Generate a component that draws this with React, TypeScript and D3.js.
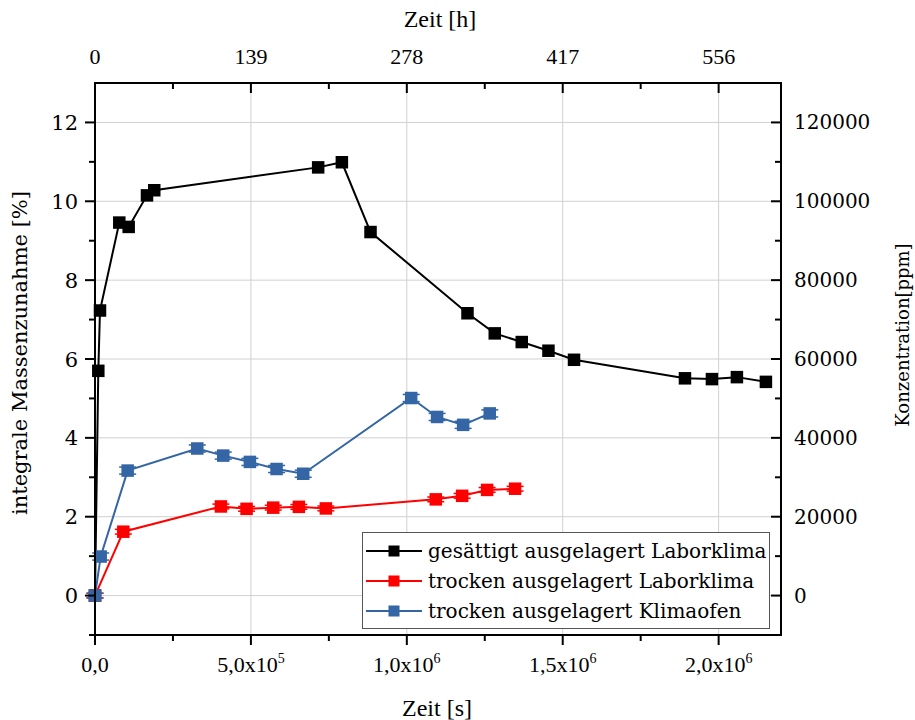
import React from "react";
import * as d3 from "d3";

// Mass uptake over storage time (seconds) for three storage conditions
const timeSatLab = [0, 10600, 16000, 77900, 108000, 166700, 190000, 715700, 791700, 883600, 1194600, 1282000, 1368600, 1454200, 1536200, 1892000, 1978500, 2058600, 2151600];
const massSatLab = [0, 5.7, 7.23, 9.46, 9.35, 10.15, 10.28, 10.86, 10.99, 9.22, 7.16, 6.65, 6.43, 6.21, 5.98, 5.51, 5.49, 5.54, 5.42];

const timeDryLab = [0, 90800, 403800, 486100, 571600, 653800, 740400, 1092900, 1177400, 1257500, 1347200];
const massDryLab = [0, 1.62, 2.26, 2.2, 2.23, 2.25, 2.21, 2.44, 2.53, 2.68, 2.71];
const errDryLab = [0.06, 0.06, 0.06, 0.06, 0.06, 0.06, 0.06, 0.06, 0.06, 0.06, 0.06];

const timeDryOven = [0, 18200, 104700, 328000, 411300, 496800, 582300, 667700, 1014000, 1097100, 1180600, 1266000];
const massDryOven = [0, 0.99, 3.17, 3.73, 3.55, 3.39, 3.21, 3.09, 5.01, 4.53, 4.33, 4.62];
const errDryOven = [0.06, 0.09, 0.09, 0.09, 0.09, 0.09, 0.09, 0.09, 0.09, 0.09, 0.09, 0.09];

const seriesNames = [
  "gesättigt ausgelagert Laborklima",
  "trocken ausgelagert Laborklima",
  "trocken ausgelagert Klimaofen",
];
const seriesColors = ["#000000", "#ff0000", "#3465a4"];

const xMajorTicks = [0, 500000, 1000000, 1500000, 2000000];
const xMinorTicks = [250000, 750000, 1250000, 1750000];
const yMajorTicks = [0, 2, 4, 6, 8, 10, 12];
const yMinorTicks = [-1, 1, 3, 5, 7, 9, 11];
const ppmMajorTicks = [0, 20000, 40000, 60000, 80000, 100000, 120000];
const ppmMinorTicks = [-10000, 10000, 30000, 50000, 70000, 90000, 110000];

const W = 915;
const H = 720;
const left = 95;
const right = 781;
const top = 83;
const bottom = 635;

const SERIF = "'DejaVu Serif', serif";
const NARROW = "'Liberation Serif', serif";

export default function App() {
  const x = d3.scaleLinear().domain([0, 2200000]).range([left, right]);
  const y = d3.scaleLinear().domain([-1, 13]).range([bottom, top]);
  const yPpm = d3.scaleLinear().domain([-10000, 130000]).range([bottom, top]);

  const line = d3
    .line<[number, number]>()
    .x((d) => x(d[0]))
    .y((d) => y(d[1]));

  const series = [
    { t: timeSatLab, m: massSatLab, e: null as number[] | null },
    { t: timeDryLab, m: massDryLab, e: errDryLab },
    { t: timeDryOven, m: massDryOven, e: errDryOven },
  ];

  const fmtDec = (v: number) => v.toFixed(1).replace(".", ",");
  const bottomLabel = (v: number) => {
    if (v === 0) return { mant: "0,0", exp: null as string | null };
    const exp = Math.floor(Math.log10(v));
    return { mant: fmtDec(v / Math.pow(10, exp)) + "x10", exp: String(exp) };
  };
  const hours = (s: number) => d3.format("d")(Math.round(s / 3600));

  const ms = 12.5;
  const cap = 8.5;

  return (
    <svg width={W} height={H} style={{ position: "absolute", left: 0, top: 0, background: "#fff" }}>
      <rect x={0} y={0} width={W} height={H} fill="#fff" />
      {/* grid */}
      <g stroke="#d0d0d0" strokeWidth={1}>
        {xMajorTicks.filter((v) => v > 0).map((v) => (
          <line key={"gx" + v} x1={x(v)} x2={x(v)} y1={top} y2={bottom} />
        ))}
        {yMajorTicks.map((v) => (
          <line key={"gy" + v} x1={left} x2={right} y1={y(v)} y2={y(v)} />
        ))}
      </g>

      {/* series */}
      {series.map((s, i) => {
        const pts = s.t.map((t, j) => [t, s.m[j]] as [number, number]);
        const c = seriesColors[i];
        return (
          <g key={"s" + i}>
            <path d={line(pts) || ""} fill="none" stroke={c} strokeWidth={2} />
            {s.e &&
              pts.map((p, j) => (
                <g key={"e" + j} stroke={c} strokeWidth={1.5}>
                  <line x1={x(p[0])} x2={x(p[0])} y1={y(p[1] + s.e![j])} y2={y(p[1] - s.e![j])} />
                  <line x1={x(p[0]) - cap} x2={x(p[0]) + cap} y1={y(p[1] + s.e![j])} y2={y(p[1] + s.e![j])} />
                  <line x1={x(p[0]) - cap} x2={x(p[0]) + cap} y1={y(p[1] - s.e![j])} y2={y(p[1] - s.e![j])} />
                </g>
              ))}
            {pts.map((p, j) => (
              <rect key={"m" + j} x={x(p[0]) - ms / 2} y={y(p[1]) - ms / 2} width={ms} height={ms} fill={c} />
            ))}
          </g>
        );
      })}

      {/* frame */}
      <rect x={left} y={top} width={right - left} height={bottom - top} fill="none" stroke="#000" strokeWidth={2} />

      {/* ticks */}
      <g stroke="#000" strokeWidth={2}>
        {xMajorTicks.map((v) => (
          <line key={"bt" + v} x1={x(v)} x2={x(v)} y1={bottom} y2={bottom + 10} />
        ))}
        {xMinorTicks.map((v) => (
          <line key={"btm" + v} x1={x(v)} x2={x(v)} y1={bottom} y2={bottom + 6} />
        ))}
        {xMajorTicks.map((v) => (
          <line key={"tt" + v} x1={x(v)} x2={x(v)} y1={top} y2={top + 10} />
        ))}
        {xMinorTicks.map((v) => (
          <line key={"ttm" + v} x1={x(v)} x2={x(v)} y1={top} y2={top + 6} />
        ))}
        {yMajorTicks.map((v) => (
          <line key={"lt" + v} x1={left - 10} x2={left} y1={y(v)} y2={y(v)} />
        ))}
        {yMinorTicks.map((v) => (
          <line key={"ltm" + v} x1={left - 6} x2={left} y1={y(v)} y2={y(v)} />
        ))}
        {ppmMajorTicks.map((v) => (
          <line key={"rt" + v} x1={right - 10} x2={right} y1={yPpm(v)} y2={yPpm(v)} />
        ))}
        {ppmMinorTicks.map((v) => (
          <line key={"rtm" + v} x1={right - 6} x2={right} y1={yPpm(v)} y2={yPpm(v)} />
        ))}
      </g>

      {/* bottom tick labels */}
      <g fontFamily={NARROW} fontSize={22} fill="#000" textAnchor="middle">
        {xMajorTicks.map((v) => {
          const l = bottomLabel(v);
          return (
            <text key={"bl" + v} x={x(v)} y={672}>
              {l.mant}
              {l.exp && (
                <tspan fontSize={14} dy={-9}>
                  {l.exp}
                </tspan>
              )}
            </text>
          );
        })}
        <text x={437} y={716} fontSize={24}>Zeit [s]</text>
      </g>

      {/* top tick labels */}
      <g fontFamily={NARROW} fontSize={22} fill="#000" textAnchor="middle">
        {xMajorTicks.map((v) => (
          <text key={"tl" + v} x={x(v)} y={64}>
            {hours(v)}
          </text>
        ))}
        <text x={440} y={27} fontSize={24}>Zeit [h]</text>
      </g>

      {/* left tick labels */}
      <g fontFamily={SERIF} fontSize={21} fill="#000" textAnchor="end">
        {yMajorTicks.map((v) => (
          <text key={"ll" + v} x={78} y={y(v) + 7.5}>
            {v}
          </text>
        ))}
      </g>
      <text
        transform={`translate(27,353) rotate(-90)`}
        fontFamily={SERIF}
        fontSize={21}
        textAnchor="middle"
      >
        integrale Massenzunahme [%]
      </text>

      {/* right tick labels */}
      <g fontFamily={SERIF} fontSize={20} fill="#000" textAnchor="start">
        {ppmMajorTicks.map((v) => (
          <text key={"rl" + v} x={794} y={yPpm(v) + 7}>
            {v}
          </text>
        ))}
      </g>
      <text
        transform={`translate(909,335) rotate(-90)`}
        fontFamily={SERIF}
        fontSize={18}
        textAnchor="middle"
      >
        Konzentration[ppm]
      </text>

      {/* legend */}
      <g>
        <rect x={362.5} y={532.5} width={407} height={96} fill="#fff" stroke="#555" strokeWidth={1} />
        {seriesNames.map((n, i) => {
          const ly = 551 + i * 30;
          return (
            <g key={"lg" + i}>
              <line x1={366} x2={422} y1={ly} y2={ly} stroke={seriesColors[i]} strokeWidth={2} />
              <rect x={394 - 5.5} y={ly - 5.5} width={11} height={11} fill={seriesColors[i]} />
              <text x={428} y={ly + 7} fontFamily={SERIF} fontSize={20} fill="#000">
                {n}
              </text>
            </g>
          );
        })}
      </g>
    </svg>
  );
}
